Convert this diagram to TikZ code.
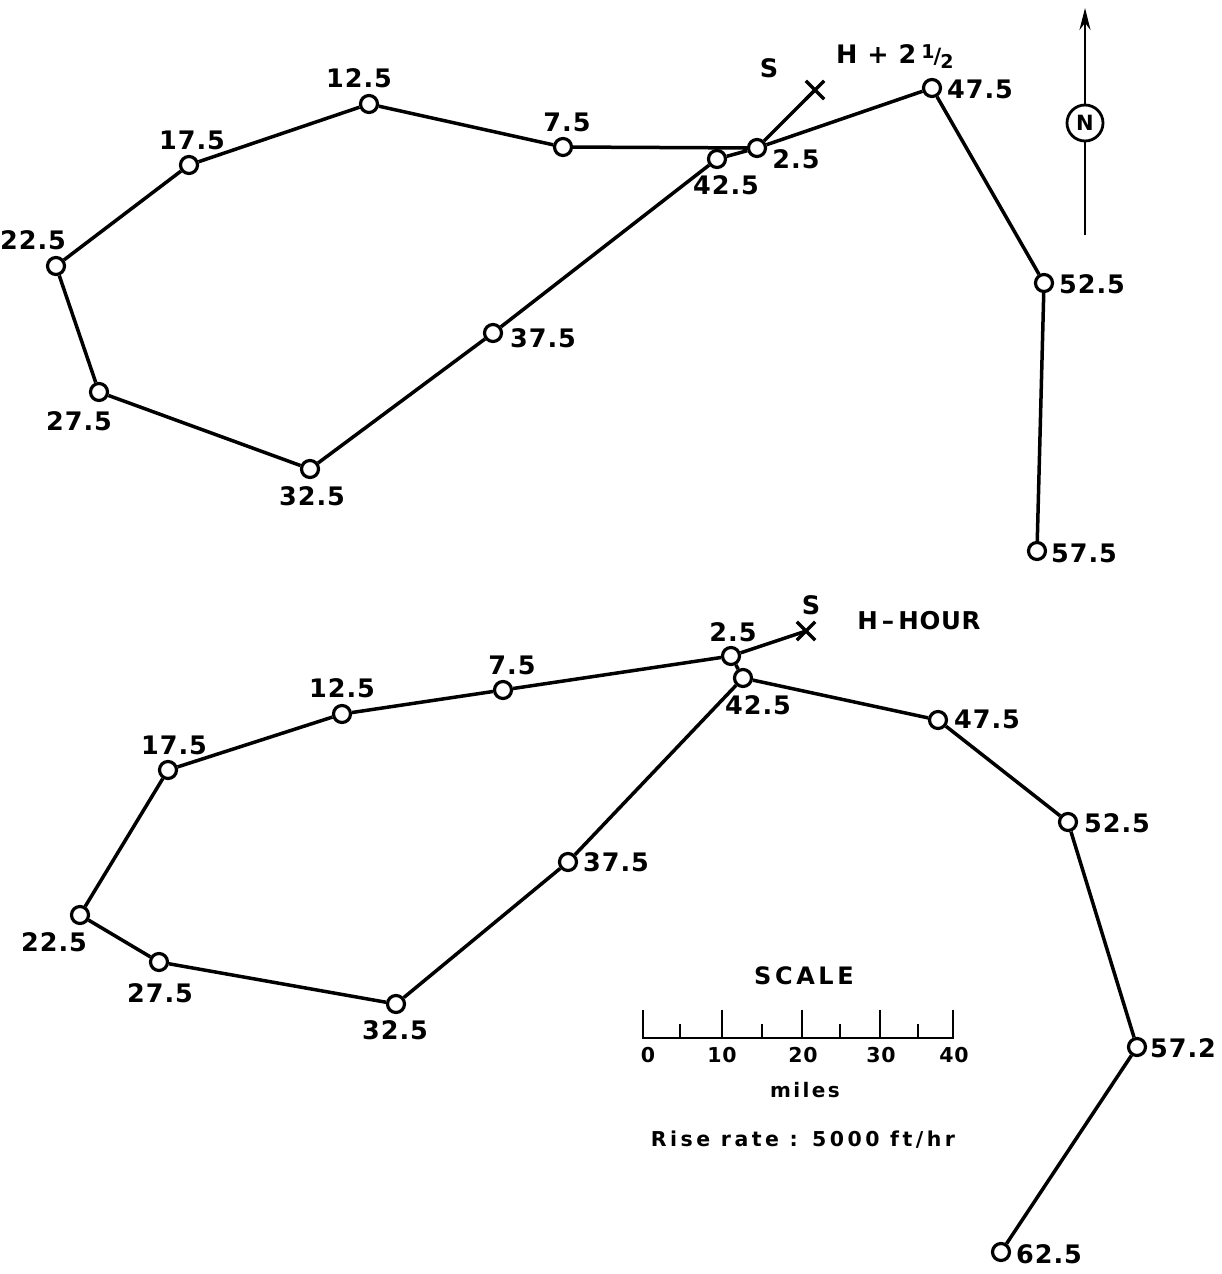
\documentclass[tikz,border=0pt]{standalone}
\usepackage{fontspec}
\setmainfont{DejaVu Sans}
\usetikzlibrary{arrows.meta,shapes.misc}

\tikzset{
 stn/.style={circle, draw, line width=3.2pt, minimum size=17pt, inner sep=0pt, fill=white},
 lbl/.style={inner sep=0pt, font=\fontsize{25.5}{27}\selectfont\bfseries\addfontfeature{LetterSpace=4}},
 sml/.style={inner sep=0pt, font=\fontsize{20.5}{24}\selectfont\bfseries\addfontfeature{LetterSpace=4}},
 trk/.style={line width=3.5pt},
 src/.style={cross out, draw, line width=3.4pt, minimum size=15pt, inner sep=0pt},
}

\begin{document}
\begin{tikzpicture}[x=1pt, y=-1pt]
 \useasboundingbox (0,0) rectangle (1222,1274);
 % ---- H + 2 1/2 (oben)
 \node[src] (sa) at (815,90) {}; %Quelle S
 \node[lbl] (tsa) at (769,68) {S};
 \node[lbl, anchor=base west] (tha) at (836,63) {H + 2\kern5pt\raisebox{5pt}{\fontsize{19}{19}\selectfont 1}\kern-1pt{\fontsize{21}{21}\selectfont/}\kern-1pt\raisebox{-5pt}{\fontsize{19}{19}\selectfont 2}};
 \node[stn] (a02) at (757,148) {}; %2.5
 \node[stn] (a07) at (563,147) {}; %7.5
 \node[stn] (a12) at (369,104) {}; %12.5
 \node[stn] (a17) at (189,165) {}; %17.5
 \node[stn] (a22) at (56,266) {}; %22.5
 \node[stn] (a27) at (99,392) {}; %27.5
 \node[stn] (a32) at (310,469) {}; %32.5
 \node[stn] (a37) at (493,333) {}; %37.5
 \node[stn] (a42) at (717,159) {}; %42.5
 \node[stn] (a47) at (932,88) {}; %47.5
 \node[stn] (a52) at (1044,283) {}; %52.5
 \node[stn] (a57) at (1037,551) {}; %57.5
 \node[lbl] (la02) at (796,159) {2.5};
 \node[lbl] (la07) at (567,122) {7.5};
 \node[lbl] (la12) at (359,78) {12.5};
 \node[lbl] (la17) at (192,140) {17.5};
 \node[lbl] (la22) at (33,240) {22.5};
 \node[lbl] (la27) at (79,421) {27.5};
 \node[lbl] (la32) at (312,496) {32.5};
 \node[lbl] (la37) at (543,338) {37.5};
 \node[lbl] (la42) at (726,185) {42.5};
 \node[lbl] (la47) at (980,89) {47.5};
 \node[lbl] (la52) at (1092,284) {52.5};
 \node[lbl] (la57) at (1084,553) {57.5};
 \draw[trk] (a02) -- (sa.center);
 \draw[trk] (a02) -- (a07) -- (a12) -- (a17) -- (a22) -- (a27) -- (a32) -- (a37) -- (a42) -- (a02) -- (a47) -- (a52) -- (a57);
 % ---- Nordpfeil
 \node[circle, draw, line width=2.8pt, minimum size=36pt, inner sep=0pt, font=\fontsize{21}{24}\selectfont\bfseries] (nn) at (1085,123) {N};
 \coordinate (nb) at (1085,235);
 \coordinate (nt) at (1085,8);
 \draw[line width=2.6pt] (nb) -- (nn);
 \draw[line width=2.6pt, -{Stealth[length=22pt, width=11pt]}] (nn) -- (nt);
 % ---- H-HOUR (unten)
 \node[src] (sb) at (806,631) {}; %Quelle S
 \node[lbl] (tsb) at (811,605) {S};
 \node[lbl, font=\fontsize{24.5}{26}\selectfont\bfseries\addfontfeature{LetterSpace=3}] (thb) at (919,621) {H\,--\,HOUR};
 \node[stn] (b02) at (731,656) {}; %2.5
 \node[stn] (b07) at (503,690) {}; %7.5
 \node[stn] (b12) at (342,714) {}; %12.5
 \node[stn] (b17) at (168,770) {}; %17.5
 \node[stn] (b22) at (80,915) {}; %22.5
 \node[stn] (b27) at (159,962) {}; %27.5
 \node[stn] (b32) at (396,1004) {}; %32.5
 \node[stn] (b37) at (568,862) {}; %37.5
 \node[stn] (b42) at (743,678) {}; %42.5
 \node[stn] (b47) at (938,720) {}; %47.5
 \node[stn] (b52) at (1068,822) {}; %52.5
 \node[stn] (b57) at (1137,1047) {}; %57.2
 \node[stn] (b62) at (1001,1252) {}; %62.5
 \node[lbl] (lb02) at (733,632) {2.5};
 \node[lbl] (lb07) at (512,665) {7.5};
 \node[lbl] (lb12) at (342,688) {12.5};
 \node[lbl] (lb17) at (174,745) {17.5};
 \node[lbl] (lb22) at (54,942) {22.5};
 \node[lbl] (lb27) at (160,993) {27.5};
 \node[lbl] (lb32) at (395,1030) {32.5};
 \node[lbl] (lb37) at (616,862) {37.5};
 \node[lbl] (lb42) at (758,705) {42.5};
 \node[lbl] (lb47) at (987,719) {47.5};
 \node[lbl] (lb52) at (1117,823) {52.5};
 \node[lbl] (lb57) at (1183,1048) {57.2};
 \node[lbl] (lb62) at (1049,1254) {62.5};
 \draw[trk] (b02) -- (sb.center);
 \draw[trk] (b02) -- (b07) -- (b12) -- (b17) -- (b22) -- (b27) -- (b32) -- (b37) -- (b42) -- (b47) -- (b52) -- (b57) -- (b62);
 \draw[trk] (b02) -- (b42);
 % ---- Massstab
 \node[inner sep=0pt, font=\fontsize{24}{26}\selectfont\bfseries\addfontfeature{LetterSpace=15}] (scl) at (804,976) {SCALE};
 \coordinate (m0) at (643,1038);
 \coordinate (m40) at (953,1038);
 \draw[line width=2.6pt] (643,1010) -- (m0) -- (m40) -- (953,1010);
 \draw[line width=2.6pt] (722,1038) -- (722,1010);
 \draw[line width=2.6pt] (802,1038) -- (802,1010);
 \draw[line width=2.6pt] (880,1038) -- (880,1010);
 \draw[line width=2.6pt] (680,1038) -- (680,1024);
 \draw[line width=2.6pt] (762,1038) -- (762,1024);
 \draw[line width=2.6pt] (840,1038) -- (840,1024);
 \draw[line width=2.6pt] (918,1038) -- (918,1024);
 \node[sml] (s0) at (648,1055) {0};
 \node[sml] (s10) at (722,1055) {10};
 \node[sml] (s20) at (803,1055) {20};
 \node[sml] (s30) at (881,1055) {30};
 \node[sml] (s40) at (954,1055) {40};
 \node[sml, font=\fontsize{20}{24}\selectfont\bfseries\addfontfeature{LetterSpace=12}] (mil) at (805,1090) {miles};
 \node[sml, font=\fontsize{20.5}{24}\selectfont\bfseries\addfontfeature{LetterSpace=17}] (rise) at (803,1140) {Rise rate : 5000 ft/hr};
\end{tikzpicture}
\end{document}
